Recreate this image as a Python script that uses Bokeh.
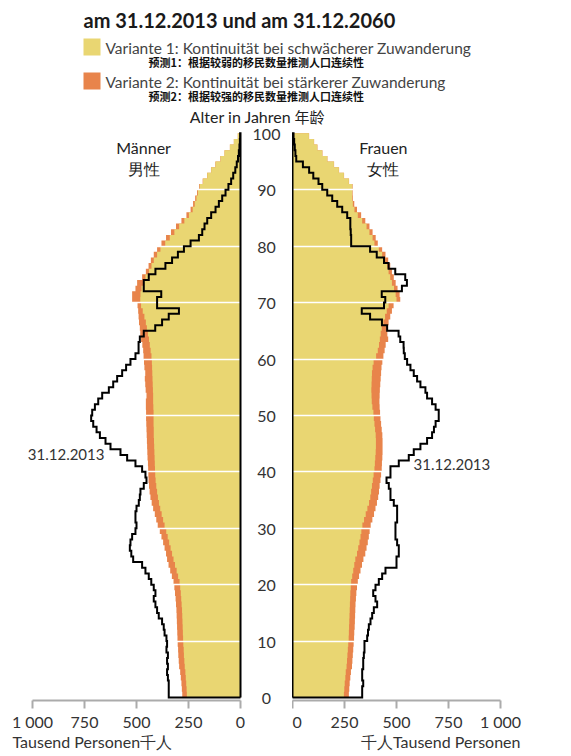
from bokeh.plotting import figure
from bokeh.layouts import column, row
from bokeh.models import Range1d, FixedTicker
from bokeh.embed import file_html
from bokeh.resources import INLINE
from bokeh.core.properties import value

# ---------------- data (thousand persons, by single year of age 0..99) ----------------
ages = list(range(100))

men_2013 = [345, 345, 345, 349, 353, 349, 353, 349, 356, 353,
            356, 365, 369, 377, 393, 401, 409, 417, 409, 417,
            429, 441, 457, 473, 516, 525, 532, 529, 521, 505,
            500, 505, 505, 500, 489, 484, 481, 465, 452, 457,
            473, 505, 545, 577, 625, 649, 676, 692, 708, 718,
            713, 700, 684, 665, 633, 612, 593, 569, 550, 529,
            505, 490, 490, 484, 465, 410, 377, 345, 296, 401,
            401, 381, 465, 465, 441, 409, 361, 329, 301, 272,
            240, 200, 184, 173, 160, 141, 120, 104, 88, 72,
            58, 45, 35, 25, 18, 12, 8, 5, 3, 2]

women_2013 = [335, 335, 340, 335, 335, 340, 340, 343, 346, 346,
              359, 363, 367, 375, 383, 391, 407, 399, 388, 399,
              415, 431, 447, 500, 500, 511, 511, 503, 495, 495,
              495, 503, 503, 503, 487, 471, 471, 463, 452, 471,
              471, 511, 559, 583, 615, 647, 671, 680, 688, 703,
              703, 688, 671, 647, 639, 615, 599, 583, 567, 551,
              540, 535, 534, 518, 510, 455, 430, 373, 333, 440,
              446, 429, 526, 550, 542, 494, 462, 440, 405, 373,
              282, 282, 280, 278, 278, 263, 239, 215, 191, 167,
              143, 125, 100, 80, 50, 18, 14, 11, 8, 5]

men_v1 = [258, 259, 261, 263, 265, 268, 270, 272, 273, 275,
          276, 277, 278, 279, 280, 281, 283, 285, 287, 290,
          293, 300, 307, 315, 322, 329, 336, 343, 350, 357,
          365, 372, 379, 386, 392, 397, 401, 405, 408, 410,
          411, 412, 413, 414, 415, 416, 417, 417, 418, 418,
          418, 419, 420, 420, 421, 422, 423, 424, 425, 426,
          428, 432, 436, 440, 445, 450, 455, 462, 470, 478,
          482, 481, 476, 468, 457, 440, 428, 417, 401, 385,
          362, 340, 318, 295, 270, 248, 230, 220, 212, 205,
          196, 180, 160, 141, 120, 96, 77, 51, 32, 13]

men_v2 = [280, 282, 284, 287, 290, 295, 297, 299, 300, 302,
          303, 304, 305, 306, 307, 308, 310, 312, 315, 318,
          322, 330, 338, 346, 353, 358, 365, 372, 380, 388,
          398, 405, 412, 420, 427, 433, 437, 440, 442, 443,
          444, 445, 447, 448, 449, 450, 451, 452, 453, 454,
          454, 455, 455, 452, 456, 458, 460, 458, 462, 464,
          466, 468, 472, 478, 482, 484, 488, 490, 492, 495,
          521, 521, 505, 497, 473, 455, 442, 431, 417, 401,
          380, 358, 334, 310, 284, 260, 240, 228, 218, 209,
          199, 182, 161, 142, 121, 97, 77, 51, 32, 13]

women_v1 = [247, 249, 251, 254, 256, 260, 262, 264, 266, 268,
            270, 271, 272, 273, 274, 275, 276, 277, 278, 280,
            282, 287, 292, 297, 302, 310, 316, 322, 327, 331,
            336, 344, 352, 360, 368, 374, 378, 382, 386, 390,
            394, 396, 398, 400, 401, 401, 400, 397, 394, 391,
            389, 384, 381, 380, 379, 380, 381, 382, 385, 390,
            402, 410, 416, 420, 424, 429, 437, 445, 453, 462,
            500, 496, 488, 478, 470, 462, 455, 445, 431, 415,
            394, 385, 370, 356, 335, 314, 298, 290, 287, 287,
            287, 271, 247, 223, 199, 167, 143, 119, 103, 79]

women_v2 = [271, 273, 275, 278, 281, 286, 288, 290, 292, 294,
            296, 297, 299, 300, 301, 302, 303, 305, 307, 310,
            314, 320, 327, 334, 341, 350, 356, 362, 367, 371,
            376, 384, 392, 399, 406, 412, 416, 419, 423, 426,
            429, 430, 432, 433, 433, 433, 432, 429, 426, 423,
            421, 419, 418, 419, 420, 422, 424, 426, 428, 432,
            437, 443, 448, 460, 456, 454, 462, 470, 478, 486,
            518, 515, 505, 496, 487, 478, 470, 460, 447, 431,
            410, 400, 385, 370, 350, 330, 310, 297, 290, 289,
            289, 272, 248, 224, 200, 168, 144, 120, 104, 80]

age_ticks = list(range(0, 101, 10))
grid_ages = list(range(10, 100, 10))
x_ticks = [0, 250, 500, 750, 1000]
x_tick_labels = {1000: "1 000"}

title_text = "am 31.12.2013 und am 31.12.2060"
legend_de = ["Variante 1: Kontinuität bei schwächerer Zuwanderung",
             "Variante 2: Kontinuität bei stärkerer Zuwanderung"]
legend_cn = ["预测1：根据较弱的移民数量推测人口连续性",
             "预测2：根据较强的移民数量推测人口连续性"]
age_title_de = "Alter in Jahren"
age_title_cn = "年龄"
unit_men = "Tausend Personen千人"
unit_women = "千人Tausend Personen"

YELLOW = "#E9D672"
ORANGE = "#E8844B"
FONT = "Lato"
CJK = "Noto Sans CJK SC"
TXT = "#333333"


def outline(vals):
    xs, ys = [0.0], [0.0]
    for a, v in zip(ages, vals):
        xs += [v, v]
        ys += [a, a + 1]
    xs.append(0.0)
    ys.append(float(ages[-1] + 1))
    return xs, ys


def panel(width, x_range, v1, v2, v2013):
    p = figure(width=width, height=629, x_range=x_range,
               y_range=Range1d(-0.53, 105.11),
               output_backend="svg", toolbar_location=None,
               y_axis_location=None,
               min_border_left=0, min_border_right=0,
               min_border_top=0, min_border_bottom=30)
    p.outline_line_color = None
    p.background_fill_color = "white"
    p.border_fill_color = "white"
    p.xgrid.visible = False
    p.ygrid.ticker = FixedTicker(ticks=grid_ages)
    p.ygrid.grid_line_color = "white"
    p.ygrid.grid_line_width = 1.5
    p.ygrid.level = "guide"
    for vals, col in ((v2, ORANGE), (v1, YELLOW)):
        xs, ys = outline(vals)
        p.patch(xs, ys, fill_color=col, line_color=None)
    xs, ys = outline(v2013)
    r = p.line(xs + [0.0], ys + [0.0], line_color="black", line_width=2,
               line_join="miter")
    r.level = "overlay"
    ax = p.xaxis[0]
    ax.ticker = FixedTicker(ticks=x_ticks)
    ax.bounds = (0, 1000)
    ax.major_label_overrides = x_tick_labels
    ax.axis_line_color = "#ababab"
    ax.axis_line_width = 2
    ax.major_tick_line_color = "#ababab"
    ax.major_tick_line_width = 2
    ax.major_tick_in = 0
    ax.major_tick_out = 8
    ax.minor_tick_line_color = None
    ax.major_label_text_font = FONT
    ax.major_label_text_font_size = "16px"
    ax.major_label_text_color = TXT
    ax.major_label_standoff = 3
    return p


# ---------------- men (left) ----------------
# frame spans the full 292 px; 1000 thousand sits 32 px from the left edge
pm = panel(292, Range1d(1153.85, -250), men_v1, men_v2, men_2013)
t = pm.text(x=[-125] * len(age_ticks), y=age_ticks, text=[str(a) for a in age_ticks],
            text_font=value(FONT), text_font_size="16px", text_color=TXT,
            text_align="center", text_baseline="middle", y_offset=1)
t.level = "overlay"
pm.text(x=[-245], y=[103.0], text=[age_title_de], text_font=value(FONT),
        text_font_size="16px", text_color="#222222", text_align="right",
        text_baseline="middle")
pm.text(x=[466, 466], y=[97.4, 93.8], text=["Männer", "男性"],
        text_font=value(FONT), text_font_size="16px", text_color="#222222",
        text_align="center", text_baseline="middle")
pm.text(x=[654], y=[43.0], text=["31.12.2013"], text_font=value(FONT),
        text_font_size="15px", text_color=TXT, text_align="right",
        text_baseline="middle")

# ---------------- women (right) ----------------
pw = panel(279, Range1d(0, 1341.3), women_v1, women_v2, women_2013)
pw.text(x=[9.6], y=[103.0], text=[age_title_cn], text_font=value(CJK),
        text_font_size="15px", text_color="#222222", text_align="left",
        text_baseline="middle")
pw.text(x=[437, 437], y=[97.4, 93.8], text=["Frauen", "女性"],
        text_font=value(FONT), text_font_size="16px", text_color="#222222",
        text_align="center", text_baseline="middle")
pw.text(x=[582], y=[41.3], text=["31.12.2013"], text_font=value(FONT),
        text_font_size="15px", text_color=TXT, text_align="left",
        text_baseline="middle")


def blank(height, y0, y1):
    f = figure(width=571, height=height, x_range=Range1d(0, 571),
               y_range=Range1d(y1, y0), output_backend="svg",
               toolbar_location=None, x_axis_location=None, y_axis_location=None,
               min_border_left=0, min_border_right=0, min_border_top=0,
               min_border_bottom=0)
    f.outline_line_color = None
    f.grid.visible = False
    return f


# ---------------- header ----------------
h = blank(104, 0, 104)
h.text(x=[83], y=[19], text=[title_text], text_font=value(FONT),
       text_font_style="bold", text_font_size="20px", text_color="#1a1a1a",
       text_baseline="middle")
h.rect(x=[91.5, 91.5], y=[46.5, 80.5], width=17, height=17,
       fill_color=[YELLOW, ORANGE], line_color=None)
h.text(x=[105, 105], y=[47, 81], text=legend_de, text_font=value(FONT),
       text_font_size="15.5px", text_color="#444444", text_baseline="middle")
h.text(x=[148, 148], y=[61, 95], text=legend_cn, text_font=value(CJK),
       text_font_style="bold", text_font_size="11px", text_color="#111111",
       text_baseline="middle")

# ---------------- footer ----------------
fo = blank(21, 733, 754)
fo.text(x=[12], y=[741], text=[unit_men], text_font=value(FONT),
        text_font_size="16px", text_color=TXT, text_align="left",
        text_baseline="middle")
fo.text(x=[520], y=[741], text=[unit_women], text_font=value(FONT),
        text_font_size="16px", text_color=TXT, text_align="right",
        text_baseline="middle")

layout = column(h, row(pm, pw), fo)
open("out.html", "w").write(file_html(layout, INLINE))
